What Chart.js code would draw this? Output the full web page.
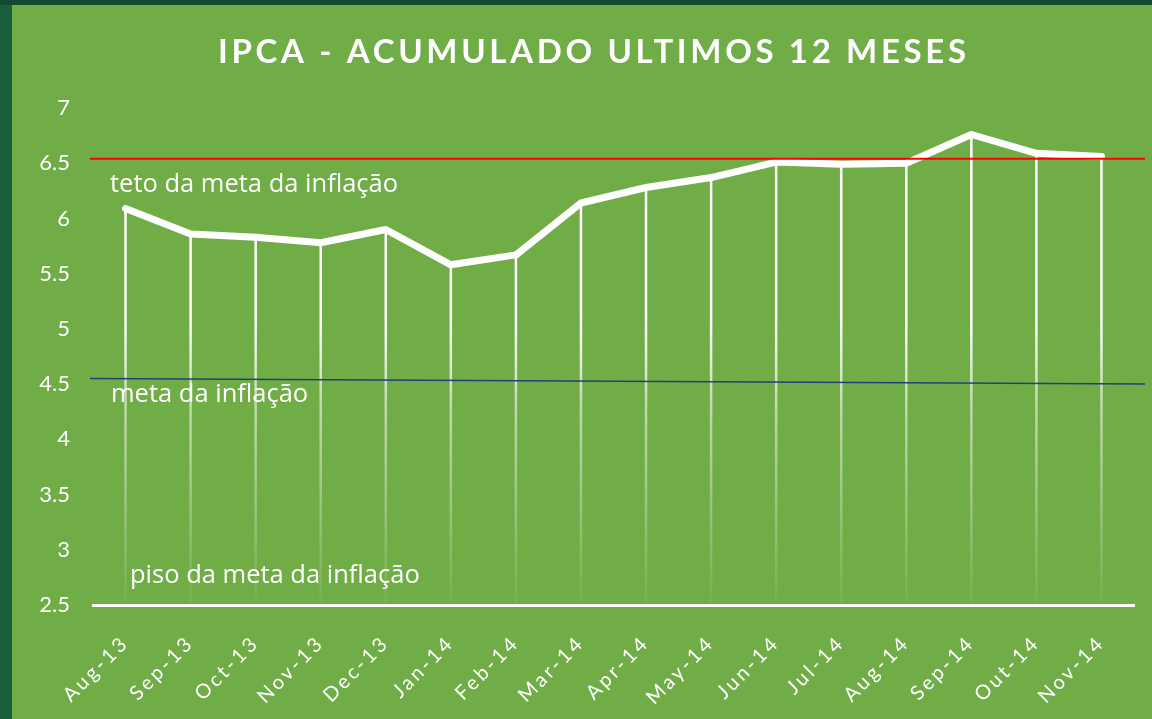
<!DOCTYPE html>
<html lang="pt">
  <head>
    <meta charset="utf-8">
    <title>IPCA - acumulado ultimos 12 meses</title>
    <style>
      html, body { margin: 0; padding: 0; background: #134B2F; }
    </style>
  </head>

  <body>
    <canvas id="grafico" width="1152" height="719"></canvas>

    <script src="https://cdn.jsdelivr.net/npm/chart.js@4.4.1/dist/chart.umd.min.js"></script>

    <script>
      // ---------- dados ----------
      const meses = ['Aug-13', 'Sep-13', 'Oct-13', 'Nov-13', 'Dec-13', 'Jan-14', 'Feb-14', 'Mar-14',
                     'Apr-14', 'May-14', 'Jun-14', 'Jul-14', 'Aug-14', 'Sep-14', 'Out-14', 'Nov-14'];
      // IPCA acumulado em 12 meses (%)
      const ipca = [6.09, 5.86, 5.83, 5.78, 5.90, 5.58, 5.67, 6.14,
                    6.28, 6.37, 6.51, 6.49, 6.50, 6.76, 6.59, 6.56];
      // linhas de referencia desenhadas a mao (valor no inicio, valor no fim)
      const teto = [6.54, 6.54];
      const meta = [4.55, 4.50];
      // eixo y
      const yMin = 2.5, yMax = 7, yPasso = 0.5;
      const titulo = 'IPCA - ACUMULADO ULTIMOS 12 MESES';
      // rotulos das linhas de referencia
      const rotulos = [
        { texto: 'teto da meta da inflação', valor: 6.24, dx: 17 },
        { texto: 'meta da inflação',         valor: 4.34, dx: 18 },
        { texto: 'piso da meta da inflação', valor: 2.70, dx: 37 }
      ];

      const VERDE = '#70AD47';

      // fundo, moldura e titulo
      const fundo = {
        id: 'fundo',
        beforeDraw(chart) {
          const ctx = chart.ctx;
          ctx.save();
          ctx.fillStyle = '#1A5F39';
          ctx.fillRect(0, 0, chart.width, chart.height);
          ctx.fillStyle = '#124A2E';
          ctx.fillRect(0, 0, chart.width, 5);
          ctx.fillStyle = VERDE;
          ctx.fillRect(12, 5, chart.width - 12, chart.height - 5);

          // titulo com espacamento entre letras
          ctx.font = 'bold 33px Lato';
          ctx.fillStyle = '#fff';
          const larg = 748;
          const w = ctx.measureText(titulo).width;
          ctx.letterSpacing = ((larg - w) / (titulo.length - 1)).toFixed(2) + 'px';
          ctx.textAlign = 'left';
          ctx.textBaseline = 'alphabetic';
          ctx.fillText(titulo, 592 - larg / 2, 63);
          ctx.restore();
          ctx.letterSpacing = '0px';
        }
      };

      // linhas verticais do ponto ate a base, sumindo para baixo
      const quedas = {
        id: 'quedas',
        beforeDatasetsDraw(chart) {
          const ctx = chart.ctx, area = chart.chartArea;
          const grad = ctx.createLinearGradient(0, area.top, 0, area.bottom);
          grad.addColorStop(0, 'rgba(255,255,255,1)');
          grad.addColorStop(0.42, 'rgba(255,255,255,1)');
          grad.addColorStop(0.6, 'rgba(255,255,255,0.55)');
          grad.addColorStop(1, 'rgba(255,255,255,0.04)');
          ctx.save();
          ctx.strokeStyle = grad;
          ctx.lineWidth = 2.5;
          chart.getDatasetMeta(0).data.forEach(p => {
            ctx.beginPath();
            ctx.moveTo(p.x, p.y);
            ctx.lineTo(p.x, area.bottom - 2);
            ctx.stroke();
          });
          ctx.restore();
        },
        afterDatasetsDraw(chart) {
          const ctx = chart.ctx, area = chart.chartArea, y = chart.scales.y;
          const x0 = area.left - 3, x1 = area.right + 11;
          ctx.save();
          ctx.lineWidth = 2;
          ctx.strokeStyle = '#FF0000';
          ctx.beginPath();
          ctx.moveTo(x0, y.getPixelForValue(teto[0]));
          ctx.lineTo(x1, y.getPixelForValue(teto[1]));
          ctx.stroke();
          ctx.lineWidth = 1.5;
          ctx.strokeStyle = '#233F7A';
          ctx.beginPath();
          ctx.moveTo(x0, y.getPixelForValue(meta[0]));
          ctx.lineTo(x1, y.getPixelForValue(meta[1]));
          ctx.stroke();

          ctx.font = '25.5px "Open Sans"';
          ctx.fillStyle = '#fff';
          ctx.textBaseline = 'alphabetic';
          rotulos.forEach(r => ctx.fillText(r.texto, area.left + r.dx, y.getPixelForValue(r.valor)));
          ctx.restore();
          // os rotulos do eixo x (z: 1) vem depois, com espacamento
          ctx.letterSpacing = '3px';
        },
        afterDraw(chart) {
          chart.ctx.letterSpacing = '0px';
        }
      };

      const ctx = document.getElementById('grafico');
      const grafico = new Chart(ctx, {
        type: 'line',
        data: {
          labels: meses,
          datasets: [{
            label: 'IPCA 12 meses',
            data: ipca,
            borderColor: '#fff',
            borderWidth: 7,
            borderCapStyle: 'round',
            borderJoinStyle: 'round',
            pointRadius: 0,
            tension: 0,
            fill: false
          }]
        },
        options: {
          responsive: false,
          animation: false,
          events: [],
          layout: { padding: { left: 0, top: 108, right: 18, bottom: 0 } },
          plugins: {
            legend: { display: false },
            title: { display: false },
            tooltip: { enabled: false }
          },
          scales: {
            x: {
              offset: true,
              grid: { display: false, drawTicks: false },
              border: { display: true, color: '#fff', width: 3 },
              ticks: {
                color: '#fff',
                font: { family: 'Lato', size: 20 },
                minRotation: 45,
                maxRotation: 45,
                autoSkip: false,
                padding: 26,
                z: 1
              },
              afterFit: s => { s.height = 114; s.paddingLeft = 0; s.paddingRight = 0; }
            },
            y: {
              min: yMin,
              max: yMax,
              grid: { display: false, drawTicks: false },
              border: { display: false },
              ticks: {
                stepSize: yPasso,
                color: '#fff',
                font: { family: 'Lato', size: 22 },
                padding: 23,
                callback: v => String(v)
              },
              afterFit: s => { s.width = 93; }
            }
          }
        },
        plugins: [fundo, quedas]
      });
    </script>
  </body>
</html>
